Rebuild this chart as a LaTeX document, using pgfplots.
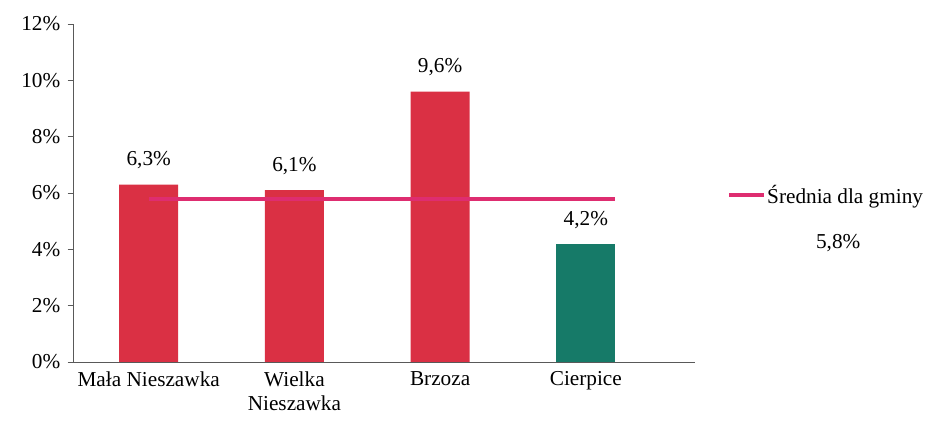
\documentclass[border=0pt]{standalone}
\usepackage{pgfplots}
\pgfplotsset{compat=1.18}
\usepackage{fontspec}
\setmainfont{Liberation Serif}

\definecolor{barred}{RGB}{218,48,68}
\definecolor{barteal}{RGB}{22,122,104}
\definecolor{avgpink}{RGB}{222,45,112}

\begin{document}
\begin{tikzpicture}[font=\fontsize{16}{18}\selectfont]
\begin{axis}[
    scale only axis,
    width=16.46cm,
    height=8.94cm,
    ymin=0, ymax=12,
    ytick={0,2,4,6,8,10,12},
    yticklabel={\pgfmathprintnumber{\tick}\%},
    /pgf/number format/assume math mode=true,
    xmin=-0.52, xmax=3.75,
    xtick={0,1,2,3},
    xticklabels={Mała Nieszawka,Wielka\\Nieszawka,Brzoza,Cierpice},
    xticklabel style={align=center, text depth=0pt},
    yticklabel style={xshift=-2pt},
    axis x line*=bottom,
    axis y line*=left,
    axis line style={gray!70!black},
    major tick length=4pt,
    xtick style={draw=none},
    ytick style={gray!70!black},
    tick align=outside,
    bar width=1.56cm,
    clip=false,
    legend style={at={(rel axis cs:1.051,0.494)}, anchor=west, draw=none, fill=none,
        inner sep=0pt, font=\fontsize{16}{18}\selectfont,
        nodes={inner xsep=1pt}},
    legend cell align=left,
]
\addplot[ybar, bar shift=0pt, fill=barred, draw=none, forget plot,
    nodes near coords, point meta=explicit symbolic,
    every node near coord/.append style={yshift=8pt}] coordinates {
    (0,6.3) [6,3\%]
    (1,6.1) [6,1\%]
    (2,9.6) [9,6\%]
};
\addplot[ybar, bar shift=0pt, fill=barteal, draw=none, forget plot,
    nodes near coords, point meta=explicit symbolic,
    every node near coord/.append style={yshift=8pt}] coordinates {
    (3,4.2) [4,2\%]
};
\addplot[avgpink, line width=3pt, mark=none, forget plot] coordinates {
    (0,5.8) (3.2,5.8)
};
\addlegendimage{legend image code/.code={
    \draw[avgpink, line width=3pt] (0cm,0cm) -- (0.92cm,0cm);}}
\addlegendentry{Średnia dla gminy}
\node[anchor=center] at (rel axis cs:1.23,0.352) {5,8\%};
\end{axis}
\pgfresetboundingbox
\path (current axis.south west) ++(-1.93cm,-1.61cm) coordinate (bbA);
\path (current axis.north east) ++(6.77cm,0.635cm) coordinate (bbB);
\path[use as bounding box] (bbA) rectangle (bbB);
\end{tikzpicture}
\end{document}
